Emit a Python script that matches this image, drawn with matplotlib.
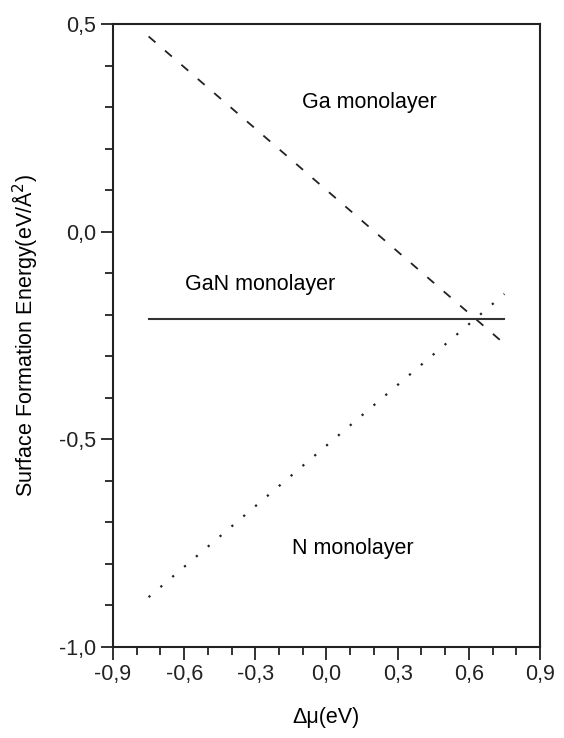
import matplotlib.pyplot as plt
from matplotlib.ticker import MultipleLocator, FuncFormatter

# chemical potential range and surface energies
mu = [-0.75, 0.75]
ga_mono = [0.47, -0.27]
n_mono = [-0.88, -0.15]
gan_mono = [-0.21, -0.21]

xticks = [-0.9, -0.6, -0.3, 0.0, 0.3, 0.6, 0.9]
yticks = [-1.0, -0.5, 0.0, 0.5]

plt.rcParams['font.family'] = ['Liberation Sans', 'DejaVu Sans']

fig = plt.figure(figsize=(5.64, 7.38), dpi=100)
ax = fig.add_axes([0.2004, 0.1233, 0.757, 0.8442])

ax.plot(mu, ga_mono, color='#222222', ls=(0, (5, 7)), lw=1.3)
ax.plot(mu, n_mono, color='#222222', ls=(0, (1, 6)), lw=1.6)
ax.plot(mu, gan_mono, color='#333333', ls='-', lw=1.5)

ax.text(0.18, 0.31, 'Ga monolayer', ha='center', va='center', fontsize=15.5)
ax.text(-0.28, -0.127, 'GaN monolayer', ha='center', va='center', fontsize=15.5)
ax.text(0.11, -0.764, 'N monolayer', ha='center', va='center', fontsize=15.5)

ax.set_xlim(-0.9, 0.9)
ax.set_ylim(-1.0, 0.5)
ax.set_xticks(xticks)
ax.set_yticks(yticks)
ax.xaxis.set_minor_locator(MultipleLocator(0.1))
ax.yaxis.set_minor_locator(MultipleLocator(0.1))
fmt = FuncFormatter(lambda v, p: ('%.1f' % v).replace('.', ','))
ax.xaxis.set_major_formatter(fmt)
ax.yaxis.set_major_formatter(fmt)

ax.tick_params(which='major', direction='out', length=9, width=1.3, labelsize=15.5, colors='#222222', pad=3)
ax.tick_params(which='minor', direction='out', length=6, width=1.3, colors='#222222')
for s in ax.spines.values():
    s.set_linewidth(1.5)
    s.set_color('#222222')

ax.set_xlabel('Δμ(eV)', fontsize=15.5, labelpad=16)
ax.set_ylabel('Surface Formation Energy(eV/Å$^2$)', fontsize=15.5, labelpad=14)

fig.savefig('out.png', dpi=100)
